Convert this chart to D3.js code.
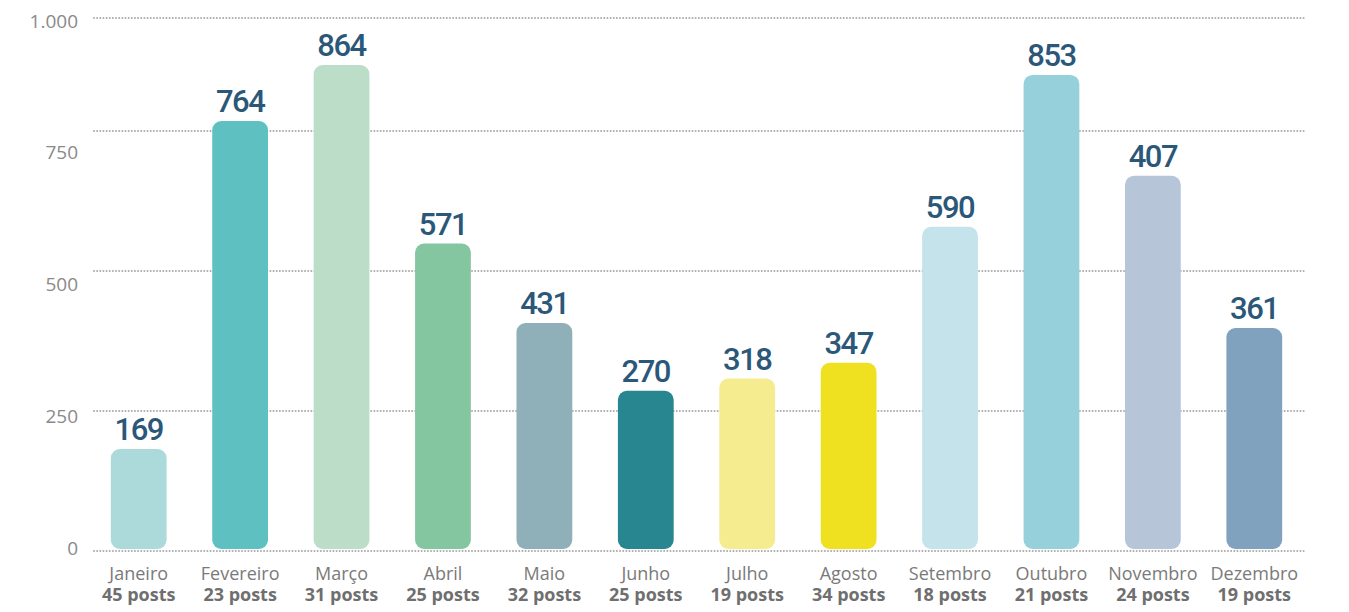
<!DOCTYPE html>
<html>
<head>
<meta charset="utf-8">
<script src="https://cdn.jsdelivr.net/npm/d3@7"></script>
<style>
  body { margin: 0; background: #fff; }
  svg { display: block; }
</style>
</head>
<body>
<svg width="1349" height="612"></svg>
<script>
var months = ["Janeiro", "Fevereiro", "Março", "Abril", "Maio", "Junho",
              "Julho", "Agosto", "Setembro", "Outubro", "Novembro", "Dezembro"];
var posts = [45, 23, 31, 25, 32, 25, 19, 34, 18, 21, 24, 19];
// numbers printed above the bars
var labels = [169, 764, 864, 571, 431, 270, 318, 347, 590, 853, 407, 361];
// bar heights as drawn in the picture (they do not follow the labels)
var barValues = [182, 772, 896, 549, 407, 286, 308, 336, 579, 874, 670, 398];
var colors = ["#acd9da", "#5fc0c1", "#bcdec9", "#84c6a0", "#8fb0b9", "#288690",
              "#f5ec8f", "#efe120", "#c4e3ea", "#95d0db", "#b6c6d8", "#80a2bf"];
var gridTicks = [0, 250, 500, 750, 1000];

var svg = d3.select("svg");

var x = d3.scaleBand().domain(months).range([88, 1305])
  .paddingInner(0.45).paddingOuter(0.225);

// the grid in the picture is not evenly spaced near the top
var y = d3.scaleLinear().domain([0, 750, 1000]).range([551, 131, 18]);
// tick labels sit on their own, evenly spaced
var yLabel = d3.scaleLinear().domain([0, 1000]).range([548, 21]);

var fmt = d3.formatLocale({ decimal: ",", thousands: ".", grouping: [3], currency: ["", ""] }).format(",");

// gridlines
svg.append("g").selectAll("line").data(gridTicks)
  .enter()
  .append("line")
  .attr("x1", 94)
  .attr("x2", 1306)
  .attr("y1", function(d){ return y(d) })
  .attr("y2", function(d){ return y(d) })
  .attr("stroke", "#aaaaaa")
  .attr("stroke-width", 2)
  .attr("stroke-linecap", "round")
  .attr("stroke-dasharray", "0,3.15");

// y tick labels
var axis = svg.append("g")
  .attr("transform", "translate(78,0)")
  .call(d3.axisLeft(yLabel).tickValues(gridTicks).tickSize(0).tickPadding(0).tickFormat(fmt));
axis.select(".domain").remove();
axis.selectAll("text")
  .attr("fill", "#8a8a8a")
  .style("font-family", "'Open Sans', sans-serif")
  .style("font-size", "19px");

// bars
svg.append("g").selectAll("rect").data(barValues)
  .enter()
  .append("rect")
  .attr("x", function(d, i){ return x(months[i]) })
  .attr("width", x.bandwidth())
  .attr("y", function(d){ return y(d) })
  .attr("height", function(d){ return y(0) - 2 - y(d) })
  .attr("rx", 9)
  .attr("fill", function(d, i){ return colors[i] });

// value labels
svg.append("g").selectAll("text").data(barValues)
  .enter()
  .append("text")
  .attr("x", function(d, i){ return x(months[i]) + x.bandwidth() / 2 })
  .attr("y", function(d){ return y(d) - 9 })
  .attr("text-anchor", "middle")
  .attr("fill", "#2b5779")
  .style("font-family", "Roboto, sans-serif")
  .style("font-weight", "500")
  .style("font-size", "31px")
  .style("letter-spacing", "-1.5px")
  .text(function(d, i){ return labels[i] });

// month names and post counts
var cats = svg.append("g").selectAll("g").data(months)
  .enter()
  .append("g")
  .attr("transform", function(d){ return "translate(" + (x(d) + x.bandwidth() / 2) + ",0)" });

cats.append("text")
  .attr("y", 580)
  .attr("text-anchor", "middle")
  .attr("fill", "#7a7a7a")
  .style("font-family", "'Open Sans', sans-serif")
  .style("font-size", "18px")
  .text(function(d){ return d });

cats.append("text")
  .attr("y", 601)
  .attr("text-anchor", "middle")
  .attr("fill", "#6f6f6f")
  .style("font-family", "'Open Sans', sans-serif")
  .style("font-weight", "700")
  .style("font-size", "18px")
  .text(function(d, i){ return posts[i] + " posts" });
</script>
</body>
</html>
